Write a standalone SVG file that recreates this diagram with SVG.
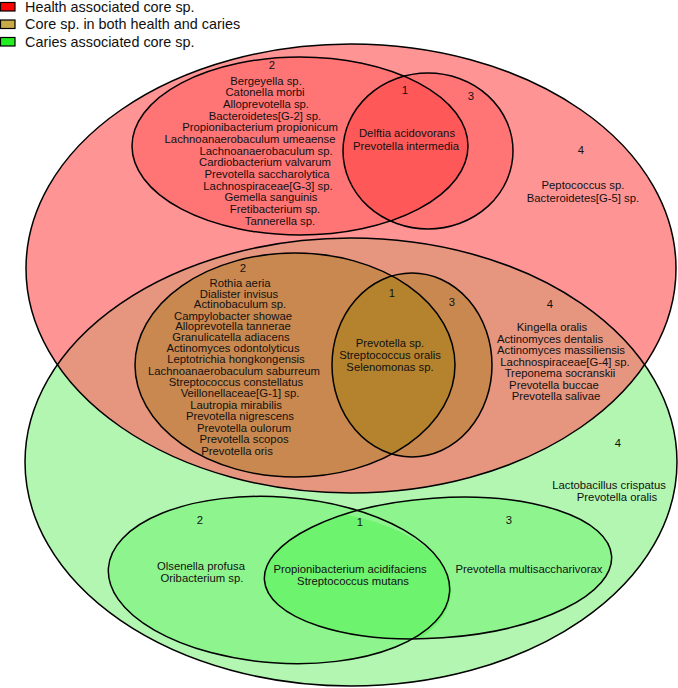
<svg xmlns="http://www.w3.org/2000/svg" width="678" height="688" viewBox="0 0 678 688">
<defs>
<style>
text{font-family:"Liberation Sans",Arial,sans-serif;font-size:11.3px;fill:#111;text-anchor:middle}
.lg{font-size:14.4px;text-anchor:start}
.ol{fill:none;stroke:#000;stroke-width:1.5}
.bx{stroke:#000;stroke-width:1.2}
</style>
<clipPath id="cRed"><ellipse cx="351" cy="268.5" rx="325" ry="224.5"/></clipPath>
<clipPath id="cT2"><ellipse cx="300" cy="146" rx="168" ry="89"/></clipPath>
<clipPath id="cM2"><ellipse cx="295" cy="365" rx="160" ry="112"/></clipPath>
<clipPath id="cB2"><ellipse cx="279" cy="580" rx="171" ry="83" transform="rotate(4 279 580)"/></clipPath>
</defs>
<rect width="678" height="688" fill="#fff"/>
<g id="legend">
<rect class="bx" x="0.5" y="2.5" width="14.5" height="8.5" fill="#ff0000"/>
<rect class="bx" x="0.5" y="20" width="14.5" height="8.5" fill="#c8aa48"/>
<rect class="bx" x="0.5" y="37.5" width="14.5" height="8.5" fill="#22ee22"/>
<text class="lg" x="25" y="11.8">Health associated core sp.</text>
<text class="lg" x="25" y="29.2">Core sp. in both health and caries</text>
<text class="lg" x="25" y="47.2">Caries associated core sp.</text>
</g>
<g id="big-sets">
<ellipse cx="351" cy="268.5" rx="325" ry="224.5" fill="#ff9494"/>
<ellipse cx="351" cy="462" rx="326" ry="224" fill="#b2f6b2"/>
<ellipse cx="351" cy="462" rx="326" ry="224" fill="#e6957e" clip-path="url(#cRed)"/>
<ellipse class="ol" cx="351" cy="268.5" rx="325" ry="224.5"/>
<ellipse class="ol" cx="351" cy="462" rx="326" ry="224"/>
</g>
<g id="health-venn">
<ellipse cx="300" cy="146" rx="168" ry="89" fill="#ff7474"/>
<ellipse cx="428" cy="151" rx="85" ry="78" fill="#ff7474"/>
<ellipse cx="428" cy="151" rx="85" ry="78" fill="#ff5858" clip-path="url(#cT2)"/>
<ellipse class="ol" cx="300" cy="146" rx="168" ry="89"/>
<ellipse class="ol" cx="428" cy="151" rx="85" ry="78"/>
<text x="272" y="69">2</text>
<text x="266" y="84.7">Bergeyella sp.</text>
<text x="265" y="96.4">Catonella morbi</text>
<text x="266" y="108">Alloprevotella sp.</text>
<text x="265" y="119.7">Bacteroidetes[G-2] sp.</text>
<text x="260" y="131.4">Propionibacterium propionicum</text>
<text x="250" y="143">Lachnoanaerobaculum umeaense</text>
<text x="266" y="154.7">Lachnoanaerobaculum sp.</text>
<text x="265" y="166.4">Cardiobacterium valvarum</text>
<text x="267" y="178">Prevotella saccharolytica</text>
<text x="268" y="189.7">Lachnospiraceae[G-3] sp.</text>
<text x="271" y="201.4">Gemella sanguinis</text>
<text x="275" y="213">Fretibacterium sp.</text>
<text x="280" y="224.7">Tannerella sp.</text>
<text x="405" y="94">1</text>
<text x="407" y="137">Delftia acidovorans</text>
<text x="406" y="150">Prevotella intermedia</text>
<text x="471" y="100">3</text>
<text x="581" y="154">4</text>
<text x="583" y="189">Peptococcus sp.</text>
<text x="583" y="202">Bacteroidetes[G-5] sp.</text>
</g>
<g id="both-venn">
<ellipse cx="295" cy="365" rx="160" ry="112" fill="#c8884f"/>
<ellipse cx="412" cy="365" rx="80" ry="92" fill="#c8884f"/>
<ellipse cx="412" cy="365" rx="80" ry="92" fill="#b5822e" clip-path="url(#cM2)"/>
<ellipse class="ol" cx="295" cy="365" rx="160" ry="112"/>
<ellipse class="ol" cx="412" cy="365" rx="80" ry="92"/>
<text x="243" y="272">2</text>
<text x="240" y="287">Rothia aeria</text>
<text x="239" y="297.5">Dialister invisus</text>
<text x="240" y="308">Actinobaculum sp.</text>
<text x="233" y="319.5">Campylobacter showae</text>
<text x="233" y="330">Alloprevotella tannerae</text>
<text x="231" y="340.5">Granulicatella adiacens</text>
<text x="233" y="351.5">Actinomyces odontolyticus</text>
<text x="236" y="363">Leptotrichia hongkongensis</text>
<text x="234" y="374.5">Lachnoanaerobaculum saburreum</text>
<text x="236" y="385.5">Streptococcus constellatus</text>
<text x="240" y="397">Veillonellaceae[G-1] sp.</text>
<text x="236" y="408.5">Lautropia mirabilis</text>
<text x="240" y="420">Prevotella nigrescens</text>
<text x="244" y="431.5">Prevotella oulorum</text>
<text x="244" y="443">Prevotella scopos</text>
<text x="237" y="454.5">Prevotella oris</text>
<text x="392" y="297">1</text>
<text x="390" y="347">Prevotella sp.</text>
<text x="390" y="359">Streptococcus oralis</text>
<text x="390" y="370.5">Selenomonas sp.</text>
<text x="452" y="306">3</text>
<text x="550" y="308">4</text>
<text x="552" y="331">Kingella oralis</text>
<text x="550" y="342.5">Actinomyces dentalis</text>
<text x="561" y="354">Actinomyces massiliensis</text>
<text x="565" y="365.5">Lachnospiraceae[G-4] sp.</text>
<text x="560" y="377">Treponema socranskii</text>
<text x="554" y="388.5">Prevotella buccae</text>
<text x="556" y="400">Prevotella salivae</text>
</g>
<g id="caries-venn">
<ellipse cx="279" cy="580" rx="171" ry="83" transform="rotate(4 279 580)" fill="#8ef58e"/>
<ellipse cx="438" cy="568" rx="174" ry="70" transform="rotate(-4 438 568)" fill="#8ef58e"/>
<ellipse cx="438" cy="568" rx="174" ry="70" transform="rotate(-4 438 568)" fill="#6ef36e" clip-path="url(#cB2)"/>
<ellipse class="ol" cx="279" cy="580" rx="171" ry="83" transform="rotate(4 279 580)"/>
<ellipse class="ol" cx="438" cy="568" rx="174" ry="70" transform="rotate(-4 438 568)"/>
<text x="618" y="447">4</text>
<text x="609" y="489">Lactobacillus crispatus</text>
<text x="617" y="500.5">Prevotella oralis</text>
<text x="200" y="524">2</text>
<text x="201" y="570">Olsenella profusa</text>
<text x="202" y="581.5">Oribacterium sp.</text>
<text x="360" y="526">1</text>
<text x="350" y="573">Propionibacterium acidifaciens</text>
<text x="353" y="585">Streptococcus mutans</text>
<text x="509" y="524">3</text>
<text x="529" y="573">Prevotella multisaccharivorax</text>
</g>
</svg>
